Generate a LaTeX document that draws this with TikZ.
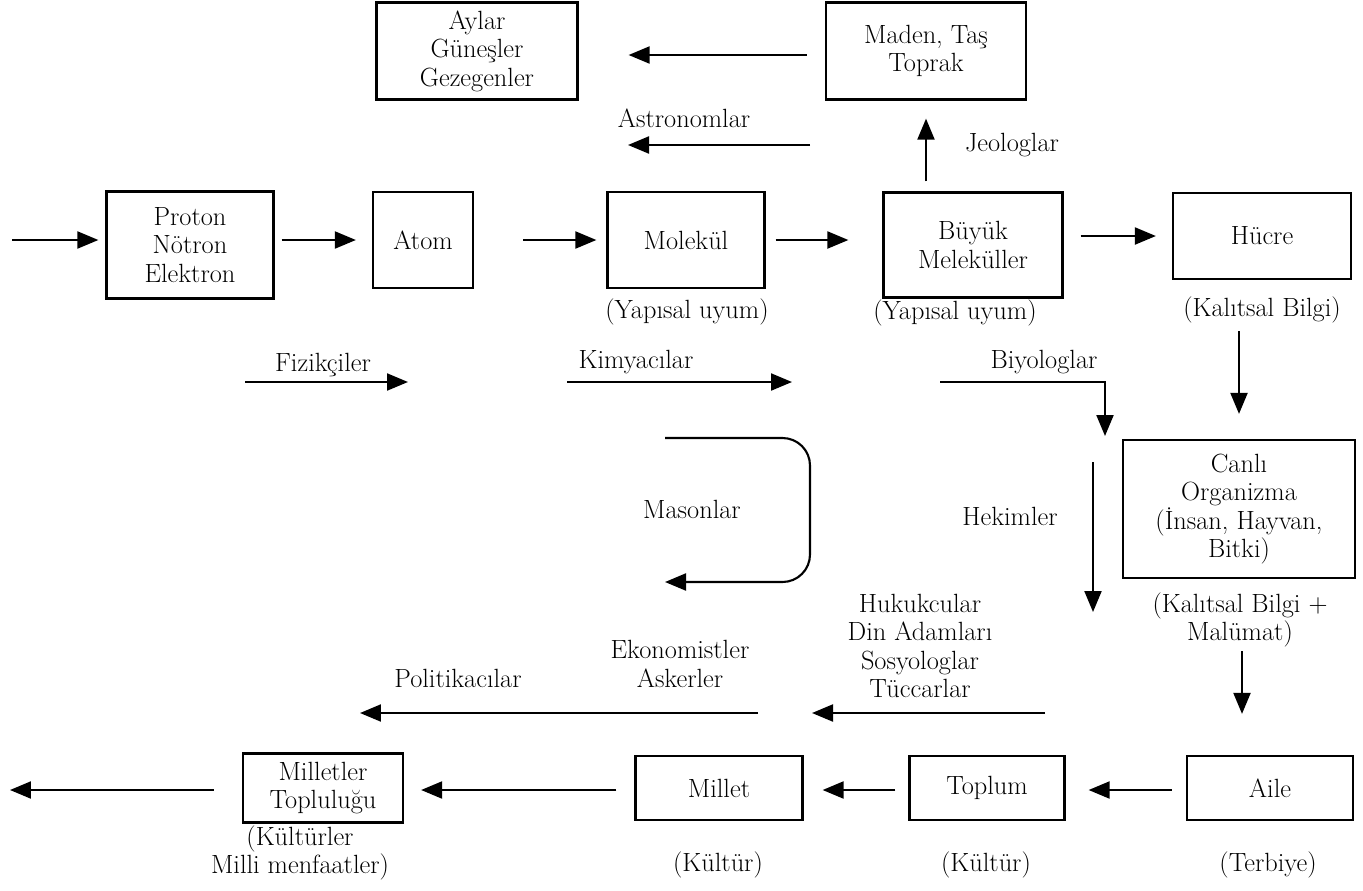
\documentclass[tikz,border=0pt]{standalone}
\usepackage{fontspec}
\usepackage{tikz}
\usetikzlibrary{arrows.meta,positioning,calc}
\tikzset{
    % kutular ve oklar
    kutu/.style={
        rectangle, draw=black, line width=1.3pt, fill=white,
        align=center, inner sep=2pt
    },
    ok/.style={
        -{Triangle[length=0.42cm,width=0.34cm]}, line width=1.2pt, color=black
    },
    etiket/.style={
        draw=none, fill=none, align=center, inner sep=1pt
    }
}
\begin{document}
\begin{tikzpicture}[x=0.02cm, y=-0.02cm, font=\fontsize{15}{16.2}\selectfont]
\useasboundingbox (0,0) rectangle (1363,890);

% Ust sira
\node[kutu, minimum width=4.02cm, minimum height=1.94cm] (aylar) at (477,51) {Aylar\\Güneşler\\Gezegenler};
\node[kutu, minimum width=4.0cm, minimum height=1.94cm] (maden) at (926,51) {Maden, Taş\\Toprak};

% Ana sira
\node[kutu, minimum width=3.34cm, minimum height=2.14cm] (proton) at (190,245) {Proton\\Nötron\\Elektron};
\node[kutu, minimum width=2.0cm, minimum height=1.92cm] (atom) at (423,240) {Atom};
\node[kutu, minimum width=3.14cm, minimum height=1.92cm] (molekul) at (686,240) {Molekül};
\node[kutu, minimum width=3.58cm, minimum height=2.1cm] (buyuk) at (973,245) {Büyük\\Meleküller};
\node[kutu, minimum width=3.56cm, minimum height=1.72cm] (hucre) at (1262,236) {Hücre};

% Canli ve alt sira
\node[kutu, minimum width=4.64cm, minimum height=2.76cm] (canli) at (1239,509) {Canlı\\Organizma\\(İnsan, Hayvan,\\Bitki)};
\node[kutu, minimum width=3.32cm, minimum height=1.28cm] (aile) at (1270,788) {Aile};
\node[kutu, minimum width=3.1cm, minimum height=1.28cm] (toplum) at (987,788) {Toplum};
\node[kutu, minimum width=3.34cm, minimum height=1.28cm] (millet) at (719,788) {Millet};
\node[kutu, minimum width=3.2cm, minimum height=1.38cm] (milletler) at (323,788) {Milletler\\Topluluğu};

% Serbest uclar
\coordinate (giris) at (12,240);
\coordinate (cikis) at (10,790);
\coordinate (astA) at (810,145);
\coordinate (astB) at (628,145);
\coordinate (fizA) at (245,382);
\coordinate (fizB) at (408,382);
\coordinate (kimA) at (567,382);
\coordinate (kimB) at (792,382);
\coordinate (biyA) at (940,382);
\coordinate (biyB) at (1105,436);
\coordinate (masA) at (665,438);
\coordinate (masK) at (810,438);
\coordinate (masL) at (810,582);
\coordinate (masB) at (665,582);
\coordinate (hekA) at (1093,462);
\coordinate (hekB) at (1093,612);
\coordinate (hukA) at (1045,713);
\coordinate (hukB) at (812,713);
\coordinate (polA) at (758,713);
\coordinate (polB) at (360,713);

% Ana akis
\draw[ok, shorten >=0.14cm] (giris) -- (giris -| proton.west);
\draw[ok, shorten <=0.14cm, shorten >=0.32cm] (proton.east |- atom) -- (atom.west);
\draw[ok, shorten <=0.98cm, shorten >=0.2cm] (atom) -- (molekul);
\draw[ok, shorten <=0.2cm, shorten >=0.68cm] (molekul.east) -- (molekul.east -| buyuk.west);
\draw[ok, shorten <=0.34cm, shorten >=0.32cm] (buyuk.east |- hucre) -- (hucre.west);
\draw[ok, shorten <=0.36cm, shorten >=1.0cm] ($(maden.west)+(0,4)$) -- ($(aylar.east)+(0,4)$);
\draw[ok, shorten <=0.2cm, shorten >=0.36cm] (buyuk.north -| maden) -- (maden.south);
\draw[ok, shorten <=1.02cm, shorten >=0.5cm] (hucre.south -| canli.north) -- (canli.north);
\draw[ok, shorten <=1.44cm, shorten >=0.82cm] ($(canli.south)+(3,0)$) -- ($(canli.south |- aile.north)+(3,0)$);
\draw[ok, shorten <=0.28cm, shorten >=0.46cm] ($(aile.west)+(0,2)$) -- ($(toplum.east)+(0,2)$);
\draw[ok, shorten <=0.26cm, shorten >=0.38cm] ($(toplum.west)+(0,2)$) -- ($(millet.east)+(0,2)$);
\draw[ok, shorten <=0.36cm, shorten >=0.34cm] ($(millet.west)+(0,2)$) -- ($(milletler.east)+(0,2)$);
\draw[ok, shorten <=0.56cm] ($(milletler.west)+(0,2)$) -- (cikis);

% Meslek oklari
\draw[ok] (astA) -- (astB);
\draw[ok] (fizA) -- (fizB);
\draw[ok] (kimA) -- (kimB);
\draw[ok] (biyA) -| (biyB);
\draw[ok, rounded corners=0.55cm] (masA) -- (masK) -- (masL) -- (masB);
\draw[ok] (hekA) -- (hekB);
\draw[ok] (hukA) -- (hukB);
\draw[ok] (polA) -- (polB);

% Etiketler
\node[etiket] (astro) at (684,118) {Astronomlar};
\node[etiket] (jeo) at (1012,145) {Jeologlar};
\node[etiket] (yap1) at (687,312) {(Yapısal uyum)};
\node[etiket] (yap2) at (955,313) {(Yapısal uyum)};
\node[etiket] (kal1) at (1262,310) {(Kalıtsal Bilgi)};
\node[etiket] (fiz) at (323,365) {Fizikçiler};
\node[etiket] (kim) at (636,362) {Kimyacılar};
\node[etiket] (biy) at (1044,362) {Biyologlar};
\node[etiket] (mas) at (692,509) {Masonlar};
\node[etiket] (hek) at (1010,516) {Hekimler};
\node[etiket] (kal2) at (1240,620) {(Kalıtsal Bilgi +\\Malümat)};
\node[etiket] (huk) at (920,646) {Hukukcular\\Din Adamları\\Sosyologlar\\Tüccarlar};
\node[etiket] (eko) at (680,664) {Ekonomistler\\Askerler};
\node[etiket] (pol) at (458,678) {Politikacılar};
\node[etiket] (kul1) at (300,853) {(Kültürler\\Milli menfaatler)};
\node[etiket] (kul2) at (718,865) {(Kültür)};
\node[etiket] (kul3) at (986,865) {(Kültür)};
\node[etiket] (ter) at (1268,865) {(Terbiye)};

\end{tikzpicture}
\end{document}
